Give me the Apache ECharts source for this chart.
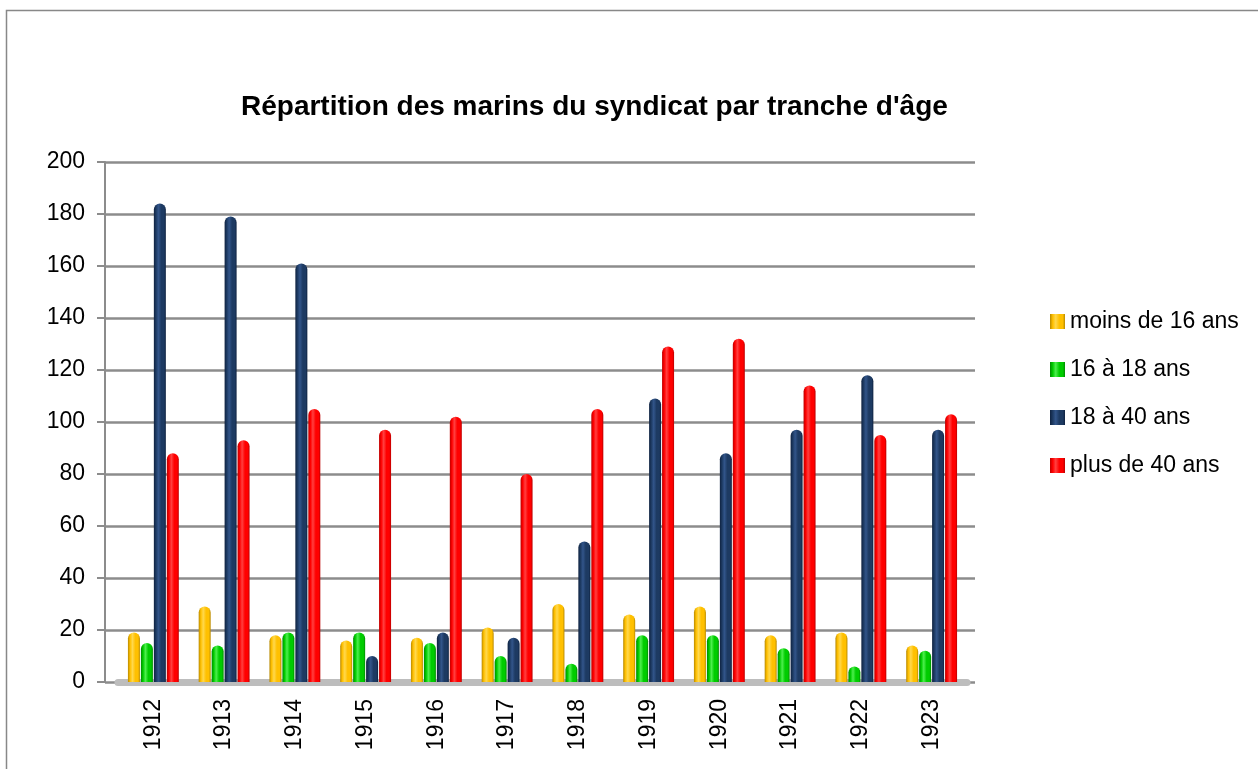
<!DOCTYPE html>
<html>
<head>
<meta charset="utf-8">
<script src="https://cdn.jsdelivr.net/npm/echarts@6/dist/echarts.min.js"></script>
<style>
  html, body { margin: 0; padding: 0; background: #fff; }
  #main { width: 1258px; height: 769px; }
</style>
</head>
<body>
<div id="main"></div>
<script>
var years = ['1912', '1913', '1914', '1915', '1916', '1917', '1918', '1919', '1920', '1921', '1922', '1923'];
var moins16 = [19, 29, 18, 16, 17, 21, 30, 26, 29, 18, 19, 14];
var de16a18 = [15, 14, 19, 19, 15, 10, 7, 18, 18, 13, 6, 12];
var de18a40 = [184, 179, 161, 10, 19, 17, 54, 109, 88, 97, 118, 97];
var plus40 = [88, 93, 105, 97, 102, 80, 105, 129, 132, 114, 95, 103];
var yTicks = [0, 200, 20];

var font = '"Liberation Sans", Arial, sans-serif';

// cylindre : degrade horizontal bord sombre / reflet / bord sombre
function cyl(edge, mid, light) {
  return new echarts.graphic.LinearGradient(0, 0, 1, 0, [
    { offset: 0, color: edge },
    { offset: 0.18, color: mid },
    { offset: 0.38, color: light },
    { offset: 0.62, color: mid },
    { offset: 0.85, color: mid },
    { offset: 1, color: edge }
  ]);
}

function serie(name, data, edge, mid, light) {
  return {
    name: name,
    type: 'bar',
    xAxisIndex: 1,
    yAxisIndex: 1,
    barWidth: 12,
    barGap: '8%',
    data: data,
    itemStyle: { color: cyl(edge, mid, light), borderRadius: [6, 6, 0, 0] }
  };
}

var chart = echarts.init(document.getElementById('main'));
var option = {
  animation: false,
  backgroundColor: '#fff',
  title: {
    text: 'Répartition des marins du syndicat par tranche d\'âge',
    left: 236,
    top: 88,
    textStyle: { fontFamily: font, fontSize: 28, fontWeight: 'bold', color: '#000' }
  },
  legend: {
    orient: 'vertical',
    left: 1045,
    top: 305,
    itemWidth: 15,
    itemHeight: 15,
    itemGap: 25,
    icon: 'rect',
    textStyle: { fontFamily: font, fontSize: 23, color: '#000' },
    data: ['moins de 16 ans', '16 à 18 ans', '18 à 40 ans', 'plus de 40 ans']
  },
  graphic: [{
    type: 'rect',
    shape: { x: 6.5, y: 10.5, width: 1300, height: 800 },
    style: { fill: 'none', stroke: '#888', lineWidth: 1.5 },
    z: -1
  }],
  grid: [
    { left: 105, right: 283, top: 162, bottom: 87 },
    { left: 118, right: 291, top: 162, bottom: 87 }
  ],
  xAxis: [
    { gridIndex: 0, type: 'value', show: false },
    {
      gridIndex: 1,
      type: 'category',
      data: years,
      axisLine: { lineStyle: { color: '#bdbdbd', width: 7 } },
      axisTick: { length: 10, lineStyle: { color: '#8c8c8c', width: 2 } },
      axisLabel: { rotate: 90, margin: 17, color: '#000', fontFamily: font, fontSize: 23 }
    }
  ],
  yAxis: [
    {
      gridIndex: 0,
      type: 'value',
      min: yTicks[0],
      max: yTicks[1],
      interval: yTicks[2],
      axisLine: { show: true, lineStyle: { color: '#8c8c8c', width: 2 } },
      axisTick: { show: true, length: 8, lineStyle: { color: '#8c8c8c', width: 2 } },
      axisLabel: { margin: 20, color: '#000', fontFamily: font, fontSize: 23 },
      splitLine: { lineStyle: { color: '#8c8c8c', width: 2.5 } }
    },
    { gridIndex: 1, type: 'value', min: yTicks[0], max: yTicks[1], show: false }
  ],
  series: [
    serie('moins de 16 ans', moins16, '#b88900', '#ffc000', '#ffd84d'),
    serie('16 à 18 ans', de16a18, '#008a00', '#00cc00', '#4dee4d'),
    serie('18 à 40 ans', de18a40, '#0f2240', '#1d3a62', '#32558a'),
    serie('plus de 40 ans', plus40, '#bb0000', '#ff0000', '#ff4040')
  ]
};
chart.setOption(option);
</script>
</body>
</html>
